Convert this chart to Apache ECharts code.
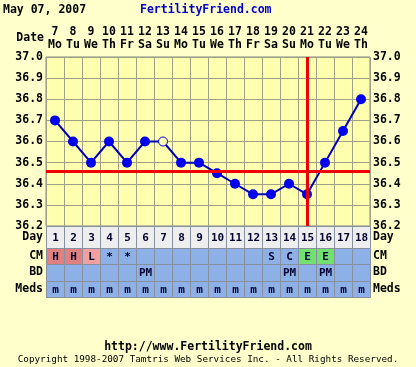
<!DOCTYPE html>
<html><head><meta charset="utf-8">
<script src="https://cdn.jsdelivr.net/npm/echarts@6/dist/echarts.min.js"></script>
<style>html,body{margin:0;padding:0;background:#ffffcc;}#c{width:416px;height:367px;}</style>
</head><body><div id="c"></div>
<script>
const titleDate = 'May 07, 2007';
const siteName = 'FertilityFriend.com';
const footerUrl = 'http://www.FertilityFriend.com';
const footerCopy = 'Copyright 1998-2007 Tamtris Web Services Inc. - All Rights Reserved.';
const dates = ['7','8','9','10','11','12','13','14','15','16','17','18','19','20','21','22','23','24'];
const weekdays = ['Mo','Tu','We','Th','Fr','Sa','Su','Mo','Tu','We','Th','Fr','Sa','Su','Mo','Tu','We','Th'];
const cycleDays = ['1','2','3','4','5','6','7','8','9','10','11','12','13','14','15','16','17','18'];
const temps = [36.7,36.6,36.5,36.6,36.5,36.6,36.6,36.5,36.5,36.45,36.4,36.35,36.35,36.4,36.35,36.5,36.65,36.8];
const openDays = ['7'];
const coverline = 36.46;
const ovulationDay = '15';
const tempMin = 36.2, tempMax = 37.0, tempStep = 0.1;
const rowNames = ['CM','BD','Meds'];
const cmRow = ['H','H','L','*','*','','','','','','','','S','C','E','E','',''];
const bdRow = ['','','','','','PM','','','','','','','','PM','','PM','',''];
const medsRow = ['m','m','m','m','m','m','m','m','m','m','m','m','m','m','m','m','m','m'];

const FONT = '"DejaVu Sans Mono", monospace';
const plotBg = '#ffffb0';
const cellFill = {'H':'#e08080','L':'#f0a0a0','E':'#70e070'};
const rows = [cmRow, bdRow, medsRow];

const chart = echarts.init(document.getElementById('c'), null, {renderer:'canvas'});

const tempData = temps.map((t,i)=> openDays.indexOf(cycleDays[i])>=0
  ? {value:t, symbolSize:9, itemStyle:{color:plotBg, borderColor:'#0000ee', borderWidth:1}}
  : t);

const dayCells = cycleDays.map((d,i)=>[i,0]);
const tableCells = [];
rows.forEach((r,ri)=>r.forEach((v,ci)=>tableCells.push([ci,ri])));

function cellRect(api, fill, text){
  const c = api.coord([api.value(0), api.value(1)]);
  const s = api.size([1,1]);
  const x0 = Math.round(c[0]-s[0]/2)+0.5, y0 = Math.round(c[1]-s[1]/2)+0.5;
  const x1 = Math.round(c[0]+s[0]/2)+0.5, y1 = Math.round(c[1]+s[1]/2)+0.5;
  const children = [{type:'rect', shape:{x:x0,y:y0,width:x1-x0,height:y1-y0},
    style:{fill:fill, stroke:'#8890a0', lineWidth:1}}];
  if (text) children.push({type:'text', x:c[0]+0.5, y:c[1]+1,
    style:{text:text, textAlign:'center', textVerticalAlign:'middle',
      font:'bold 11px '+FONT, fill:'#000030'}});
  return {type:'group', children:children};
}

const labelStyle = {fontFamily:FONT, fontWeight:'bold', fontSize:11.5, color:'#000'};

chart.setOption({
  animation:false,
  backgroundColor:'#ffffcc',
  grid:[
    {left:46, right:46, top:57, height:169, show:true, backgroundColor:plotBg, borderColor:'#888', borderWidth:1},
    {left:46, right:46, top:226, height:22},
    {left:46, right:46, top:248, height:49}
  ],
  xAxis:[
    {gridIndex:0, type:'category', data:cycleDays, boundaryGap:true,
     axisLine:{show:false}, axisTick:{show:false}, axisLabel:{show:false, interval:0},
     splitLine:{show:true, interval:0, lineStyle:{color:'#a0a088', width:1}}},
    {gridIndex:0, type:'category', data:dates, position:'top', boundaryGap:true,
     axisLine:{show:false}, axisTick:{show:false},
     axisLabel:Object.assign({interval:0, margin:5, lineHeight:13,
       formatter:(v,i)=>v+'\n'+weekdays[i]}, labelStyle)},
    {gridIndex:1, type:'category', data:cycleDays, show:false},
    {gridIndex:2, type:'category', data:cycleDays, show:false}
  ],
  yAxis:[
    {gridIndex:0, type:'value', min:tempMin, max:tempMax, interval:tempStep, position:'left',
     axisLine:{show:false}, axisTick:{show:false},
     axisLabel:Object.assign({margin:3, formatter:v=>v.toFixed(1)}, labelStyle),
     splitLine:{show:true, lineStyle:{color:'#a0a088', width:1}}},
    {gridIndex:0, type:'value', min:tempMin, max:tempMax, interval:tempStep, position:'right',
     axisLine:{show:false}, axisTick:{show:false},
     axisLabel:Object.assign({margin:3, formatter:v=>v.toFixed(1)}, labelStyle),
     splitLine:{show:false}},
    {gridIndex:1, type:'category', data:['Day'], position:'left', axisLine:{show:false}, axisTick:{show:false},
     axisLabel:Object.assign({margin:3}, labelStyle)},
    {gridIndex:1, type:'category', data:['Day'], position:'right', axisLine:{show:false}, axisTick:{show:false},
     axisLabel:Object.assign({margin:3}, labelStyle)},
    {gridIndex:2, type:'category', data:rowNames, inverse:true, position:'left', axisLine:{show:false}, axisTick:{show:false},
     axisLabel:Object.assign({margin:3, interval:0}, labelStyle)},
    {gridIndex:2, type:'category', data:rowNames, inverse:true, position:'right', axisLine:{show:false}, axisTick:{show:false},
     axisLabel:Object.assign({margin:3, interval:0}, labelStyle)}
  ],
  series:[
    {type:'line', xAxisIndex:0, yAxisIndex:0, data:tempData, z:3,
     symbol:'circle', symbolSize:10, itemStyle:{color:'#0000ee'},
     lineStyle:{color:'#0000bb', width:2}},
    {type:'line', xAxisIndex:0, yAxisIndex:0, data:[], z:6,
     markLine:{silent:true, symbol:'none', label:{show:false},
       lineStyle:{color:'#ee0000', width:3, type:'solid'},
       data:[{yAxis:coverline},{xAxis:ovulationDay}]}},
    {type:'custom', xAxisIndex:2, yAxisIndex:2, data:dayCells,
     renderItem:(p,api)=>cellRect(api,'#eeeeee',cycleDays[api.value(0)])},
    {type:'custom', xAxisIndex:3, yAxisIndex:4, data:tableCells,
     renderItem:(p,api)=>{const t=rows[api.value(1)][api.value(0)];
       return cellRect(api, (api.value(1)===0 && cellFill[t]) || '#8db0e6', t);}}
  ],
  graphic:[
    {type:'text', left:3, top:4, style:{text:titleDate, font:'bold 11.5px '+FONT, fill:'#000'}},
    {type:'text', left:140, top:4, style:{text:siteName, font:'bold 11.5px '+FONT, fill:'#0000cc'}},
    {type:'text', x:44, y:38, style:{text:'Date', textAlign:'right', textVerticalAlign:'middle', font:'bold 11.5px '+FONT, fill:'#000'}},
    {type:'text', x:208, y:347, style:{text:footerUrl, textAlign:'center', textVerticalAlign:'middle', font:'bold 11.5px '+FONT, fill:'#000'}},
    {type:'text', x:208, y:360, style:{text:footerCopy, textAlign:'center', textVerticalAlign:'middle', font:'9.3px '+FONT, fill:'#000'}}
  ]
});
</script></body></html>
